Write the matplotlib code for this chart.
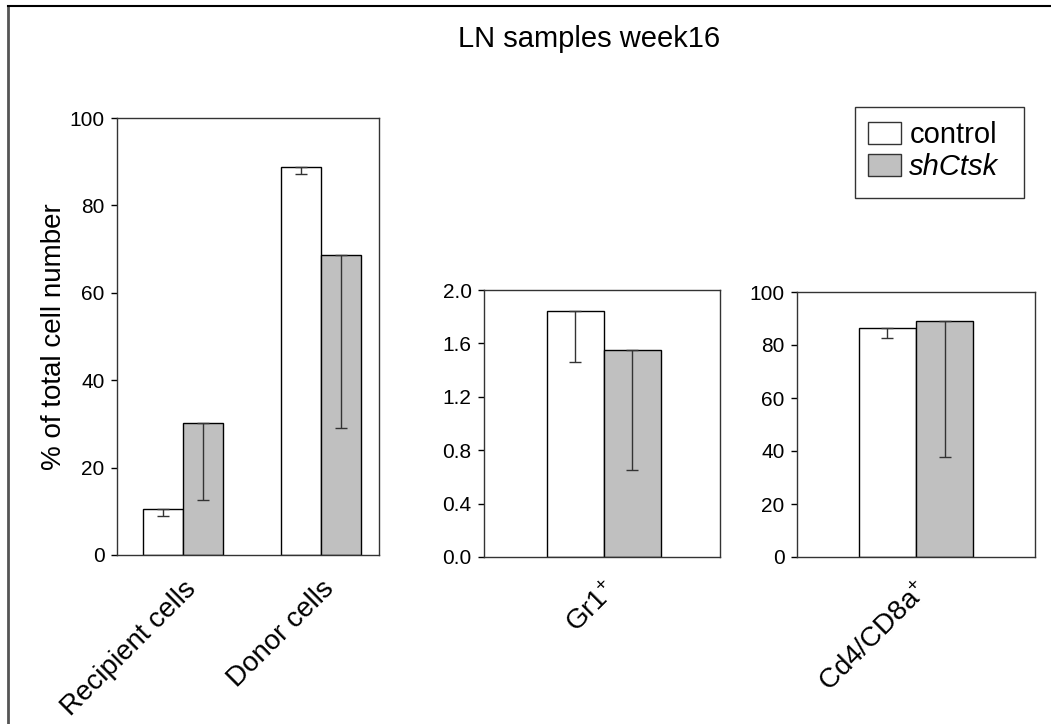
import numpy as np
import matplotlib.pyplot as plt
from matplotlib.patches import Patch, Rectangle
from matplotlib.lines import Line2D

plt.rcParams['font.family'] = ['Liberation Sans', 'DejaVu Sans']
plt.rcParams['mathtext.fontset'] = 'custom'
plt.rcParams['mathtext.rm'] = 'Liberation Sans'
plt.rcParams['mathtext.it'] = 'Liberation Sans:italic'

# data
cats1 = ['Recipient cells', 'Donor cells']
ctrl1 = [10.5, 88.7]
ctrl1_err = [1.6, 1.5]
sh1 = [30.3, 68.6]
sh1_err = [17.6, 39.6]

cats2 = ['Gr1$^{+}$']
ctrl2 = [1.84]
ctrl2_err = [0.38]
sh2 = [1.55]
sh2_err = [0.90]

cats3 = ['Cd4/CD8a$^{+}$']
ctrl3 = [86.5]
ctrl3_err = [4.0]
sh3 = [89.0]
sh3_err = [51.2]

W, H = 1051, 724
fig = plt.figure(figsize=(W / 100, H / 100), dpi=100)

def box(l, t, r, b):
    return [l / W, 1 - b / H, (r - l) / W, (b - t) / H]

def draw(ax, cats, c, ce, s, se, bw, ylim, ticks, fmt):
    x = np.arange(len(cats))
    ekw = dict(ecolor='#333333', elinewidth=1, capsize=4, capthick=1)
    ax.bar(x - bw / 2, c, bw, color='white', edgecolor='black', linewidth=1,
           yerr=[ce, [0] * len(c)], error_kw=ekw)
    ax.bar(x + bw / 2, s, bw, color='#c0c0c0', edgecolor='black', linewidth=1,
           yerr=[se, [0] * len(s)], error_kw=ekw)
    ax.set_ylim(*ylim)
    ax.set_yticks(ticks)
    ax.set_yticklabels([fmt % t for t in ticks], fontsize=15)
    ax.set_xticks(x)
    ax.set_xticklabels(cats, rotation=45, ha='right', rotation_mode='anchor', fontsize=20)
    ax.tick_params(axis='x', length=0, pad=15)
    ax.tick_params(axis='y', direction='out', length=4, width=1, pad=5)
    for sp in ax.spines.values():
        sp.set_color('#333333')
        sp.set_linewidth(1)

ax1 = fig.add_axes(box(117, 118, 379, 555))
draw(ax1, cats1, ctrl1, ctrl1_err, sh1, sh1_err, 0.29, (0, 100), [0, 20, 40, 60, 80, 100], '%d')
ax1.set_xlim(-0.478, 1.42)
ax1.set_ylabel('% of total cell number', fontsize=20, labelpad=2)

ax2 = fig.add_axes(box(484, 290, 720, 557))
draw(ax2, cats2, ctrl2, ctrl2_err, sh2, sh2_err, 0.5, (0, 2.0), [0, 0.4, 0.8, 1.2, 1.6, 2.0], '%.1f')
ax2.set_xlim(-1.05, 1.02)

ax3 = fig.add_axes(box(797, 292, 1035, 557))
draw(ax3, cats3, ctrl3, ctrl3_err, sh3, sh3_err, 0.5, (0, 100), [0, 20, 40, 60, 80, 100], '%d')
ax3.set_xlim(-1.04, 1.04)

fig.text(458 / W, 1 - 47 / H, 'LN samples week16', ha='left', va='baseline', fontsize=21)

# legend with its own frame
fig.add_artist(Rectangle((855 / W, 1 - 198 / H), (1024 - 855) / W, (198 - 107) / H,
                         transform=fig.transFigure, facecolor='white',
                         edgecolor='#333333', linewidth=1))
handles = [Patch(facecolor='white', edgecolor='#333333', label='control'),
           Patch(facecolor='#c0c0c0', edgecolor='#333333', label='shCtsk')]
leg = fig.legend(handles=handles, loc='upper left', bbox_to_anchor=(868 / W, 1 - 121 / H),
                 fontsize=21, frameon=False, handlelength=1.14, handleheight=0.8,
                 handletextpad=0.28, borderpad=0, labelspacing=0.14, borderaxespad=0)
leg.get_texts()[1].set_style('italic')

# figure frame (left and top edges)
fig.add_artist(Line2D([7.5 / W, 7.5 / W], [0, 1 - 6 / H], color='#555555', linewidth=2))
fig.add_artist(Line2D([7.5 / W, 1], [1 - 6 / H, 1 - 6 / H], color='black', linewidth=1.5))

fig.savefig('out.png', dpi=100)
